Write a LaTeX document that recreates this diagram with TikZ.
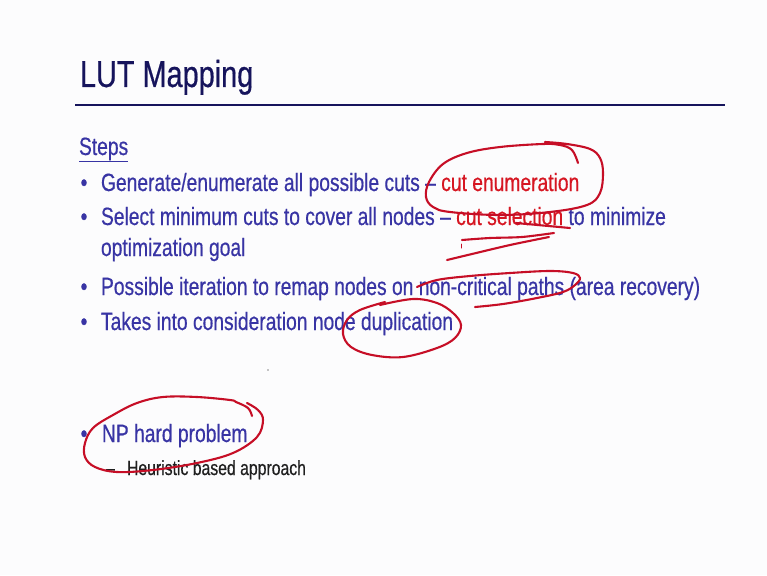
\documentclass[tikz,border=0pt]{standalone}
\usepackage{fontspec}
\setmainfont{Liberation Sans}[FakeStretch=0.77,FakeBold=0.5]
\definecolor{titlenavy}{RGB}{22,20,92}
\definecolor{bodyblue}{RGB}{56,52,164}
\definecolor{hlred}{RGB}{214,22,34}
\definecolor{inkred}{RGB}{198,14,38}
\definecolor{slidebg}{RGB}{252,252,253}
\begin{document}
\begin{tikzpicture}[x=1pt,y=-1pt,
  every node/.style={inner sep=0pt,outer sep=0pt},
  titletext/.style={anchor=base west,font=\fontsize{37.5}{40}\selectfont,text=titlenavy},
  bodytext/.style={anchor=base west,font=\fontsize{25}{28}\selectfont,text=bodyblue},
  bulletmark/.style={anchor=base,font=\fontsize{25}{28}\selectfont,text=bodyblue},
  subtext/.style={anchor=base west,font=\fontsize{20.5}{23}\selectfont,text=black!88},
  ink/.style={draw=inkred,line width=2.1pt,line cap=round,line join=round}]

% slide background and page size
\fill[slidebg] (0,0) rectangle (767,575);
\useasboundingbox (0,0) rectangle (767,575);

% title and rule
\node[titletext] (title) at (80,87) {LUT Mapping};
\coordinate (ruleL) at (75,105);
\coordinate (ruleR) at (725,105);
\draw[titlenavy,line width=2.6pt] (ruleL) -- (ruleR);

% body text
\node[bodytext] (steps) at (79,155) {\underline{Steps}};

\node[bulletmark] (b1) at (84,191) {•};
\node[bodytext] (l1) at (101,191) {Generate/enumerate all possible cuts – \textcolor{hlred}{cut enumeration}};
\node[bulletmark] (b2) at (84,225) {•};
\node[bodytext] (l2) at (101,225) {Select minimum cuts to cover all nodes – \textcolor{hlred}{cut selection} to minimize};
\node[bodytext] (l2b) at (101,256) {optimization goal};
\node[bulletmark] (b3) at (84,295) {•};
\node[bodytext] (l3) at (101,295) {Possible iteration to remap nodes on non-critical paths (area recovery)};
\node[bulletmark] (b4) at (84,330) {•};
\node[bodytext] (l4) at (101,330) {Takes into consideration node duplication};

\node[bulletmark] (b5) at (84,442) {•};
\node[bodytext] (l5) at (102,442) {NP hard problem};
\node[subtext] (d6) at (106,475) {–};
\node[subtext] (l6) at (127,475) {Heuristic based approach};

% stray pointer dot
\fill[black!45] (268,370) circle (0.9);

% hand-drawn ink marks
% loop round "cut enumeration"
\draw[ink] plot[smooth,tension=0.6] coordinates {
  (578,163) (572,150) (560,145) (543,144) (500,147) (467,153) (443,164)
  (429,182) (426,197) (433,207) (450,212) (500,215) (550,212) (587,205)
  (600,193) (603,173) (600,158) (590,149) (567,144) (545,142)};
% strike and underlines at "cut selection to"
\draw[ink] (516,223) -- (570,228);
\draw[ink] plot[smooth] coordinates {(462,240) (490,238) (522,237) (554,233)};
\draw[ink,line width=1pt] (461,244) -- (461,248);
\draw[ink] plot[smooth] coordinates {(447,260) (472,254) (510,245) (549,237)};
% loop round "non-critical paths"
\draw[ink] plot[smooth,tension=0.6] coordinates {
  (417,287) (437,280) (470,276) (510,273) (550,271) (573,273) (580,278)
  (575,285) (563,292) (537,298) (503,304) (475,307)};
% loop round "duplication"
\draw[ink] plot[smooth,tension=0.6] coordinates {
  (380,305) (413,299) (437,303) (453,313) (461,325) (455,338) (437,348)
  (403,357) (372,355) (351,347) (343,334) (347,320) (360,310) (385,302)};
% loop round "NP hard problem"
\draw[ink] plot[smooth,tension=0.6] coordinates {
  (252,416) (248,408) (236,402) (230,400) (197,397) (163,397) (137,403)
  (113,415) (93,428) (85,443) (85,457) (95,467) (117,472) (153,470)
  (197,463) (233,453) (257,437) (263,420) (258,410) (247,403)};
\end{tikzpicture}
\end{document}
